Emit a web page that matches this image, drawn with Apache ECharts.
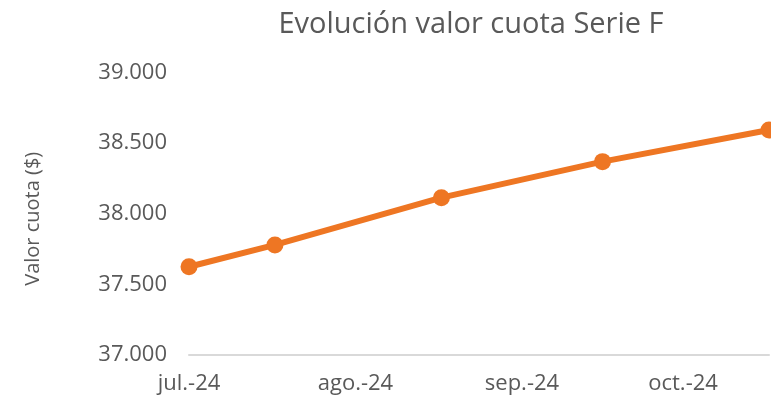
<!DOCTYPE html>
<html><head><meta charset="utf-8">
<script src="https://cdn.jsdelivr.net/npm/echarts@6/dist/echarts.min.js"></script>
<style>html,body{margin:0;padding:0;background:#fff}#c{width:771px;height:401px}</style>
</head><body><div id="c"></div>
<script>
const dates = ['2024-07-01','2024-07-17','2024-08-17','2024-09-16','2024-10-17'];
const values = [37625, 37779, 38114, 38369, 38593];
const monthNames = ['ene.','feb.','mar.','abr.','may.','jun.','jul.','ago.','sep.','oct.','nov.','dic.'];
const title = 'Evolución valor cuota Serie F';
const yName = 'Valor cuota ($)';

const chart = echarts.init(document.getElementById('c'));
const grey = '#595959';
const font = 'Open Sans';
chart.setOption({
  animation: false,
  title: {text: title, left: 466, top: 5, textAlign: 'center',
    textStyle: {fontFamily: font, fontWeight: 'normal', fontSize: 29, color: grey}},
  grid: {left: 189, right: 2, top: 72.5, bottom: 46},
  xAxis: {
    type: 'time', min: dates[0], max: dates[dates.length-1],
    minInterval: 28*86400000, maxInterval: 31*86400000,
    axisLine: {lineStyle: {color: '#d9d9d9', width: 2}},
    axisTick: {show: false}, splitLine: {show: false},
    axisLabel: {showMaxLabel: false, color: grey, fontFamily: font, fontSize: 22, margin: 18,
      formatter: v => { const d = new Date(v); return monthNames[d.getMonth()] + '-' + String(d.getFullYear()).slice(2); }}
  },
  yAxis: {
    type: 'value', min: 37000, max: 39000, interval: 500,
    name: yName, nameLocation: 'middle', nameGap: 146, nameRotate: 90,
    nameTextStyle: {fontFamily: font, fontSize: 20, color: grey, padding: [0, 10, 0, 0]},
    axisLine: {show: false}, axisTick: {show: false}, splitLine: {show: false},
    axisLabel: {color: grey, fontFamily: font, fontSize: 22, margin: 22,
      formatter: v => v.toString().replace(/\B(?=(\d{3})+(?!\d))/g, '.')}
  },
  series: [{
    type: 'line', data: dates.map((d, i) => [d, values[i]]),
    symbol: 'circle', symbolSize: 17, clip: false,
    lineStyle: {color: '#EE7623', width: 6},
    itemStyle: {color: '#EE7623'}
  }]
});
</script></body></html>
